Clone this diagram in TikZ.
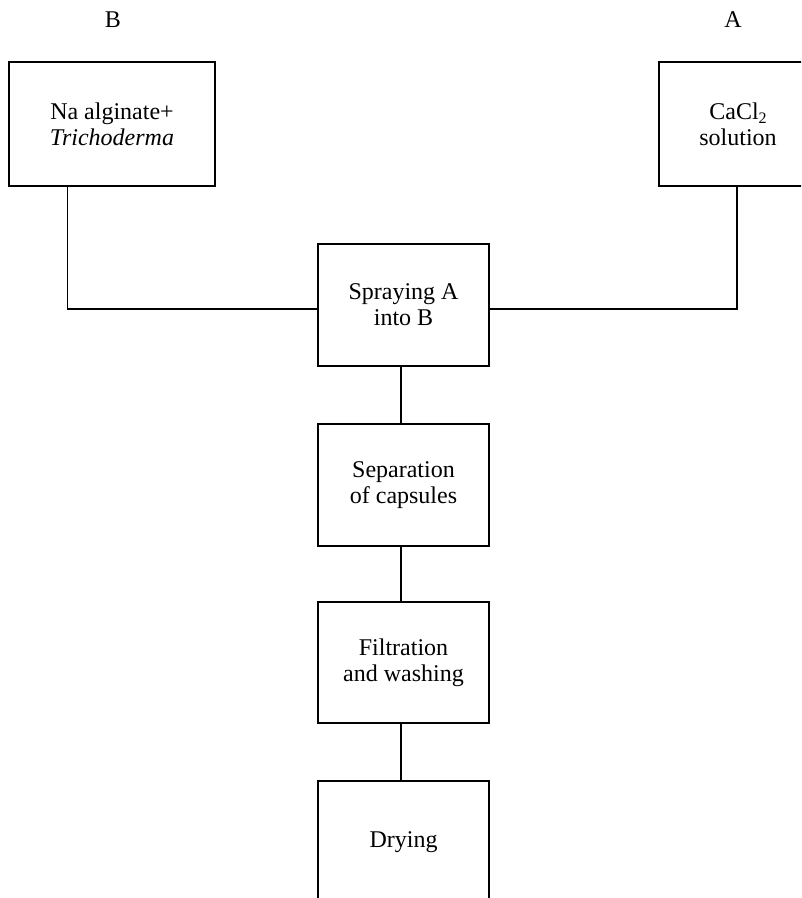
\documentclass[tikz,border=0pt]{standalone}
\usepackage{fontspec}
\setmainfont{Liberation Serif}
\newcommand{\mysubtwo}{\raisebox{-0.35ex}{\fontsize{12}{12}\selectfont 2}}
\tikzset{
  box/.style={draw, line width=0.9pt, align=center, inner sep=0pt,
    font=\fontsize{18}{19.5}\selectfont},
  lbl/.style={font=\fontsize{18}{19.5}\selectfont, inner sep=0pt},
  conn/.style={line width=0.9pt}
}
\begin{document}
\begin{tikzpicture}[x=0.75pt,y=-0.75pt]
\useasboundingbox (0,0) rectangle (801,898);
\clip (0,0) rectangle (801,898);
\node[lbl] (lb) at (113,20) {B};
\node[lbl] (la) at (733,20) {A};
\node[box, minimum width=206*0.75pt, minimum height=124*0.75pt] (B) at (112,124) {Na alginate+\\\textit{Trichoderma}};
\node[box, minimum width=158*0.75pt, minimum height=124*0.75pt] (A) at (738,124) {CaCl\mysubtwo\\solution};
\node[box, minimum width=171*0.75pt, minimum height=122*0.75pt] (spray) at (403.5,305) {Spraying A\\into B};
\node[box, minimum width=171*0.75pt, minimum height=122*0.75pt] (sep) at (403.5,485) {Separation\\of capsules};
\node[box, minimum width=171*0.75pt, minimum height=121*0.75pt] (filt) at (403.5,662.5) {Filtration\\and washing};
\node[box, minimum width=171*0.75pt, minimum height=122*0.75pt] (dry) at (403.5,842) {Drying};
\draw[conn] ([xshift=59*0.75pt]B.south west) |- ([yshift=-4*0.75pt]spray.west);
\draw[conn] ([xshift=-1*0.75pt]A.south) |- ([yshift=-4*0.75pt]spray.east);
\draw[conn] ([xshift=-2.5*0.75pt]spray.south) -- ([xshift=-2.5*0.75pt]sep.north);
\draw[conn] ([xshift=-2.5*0.75pt]sep.south) -- ([xshift=-2.5*0.75pt]filt.north);
\draw[conn] ([xshift=-2.5*0.75pt]filt.south) -- ([xshift=-2.5*0.75pt]dry.north);
\end{tikzpicture}
\end{document}
